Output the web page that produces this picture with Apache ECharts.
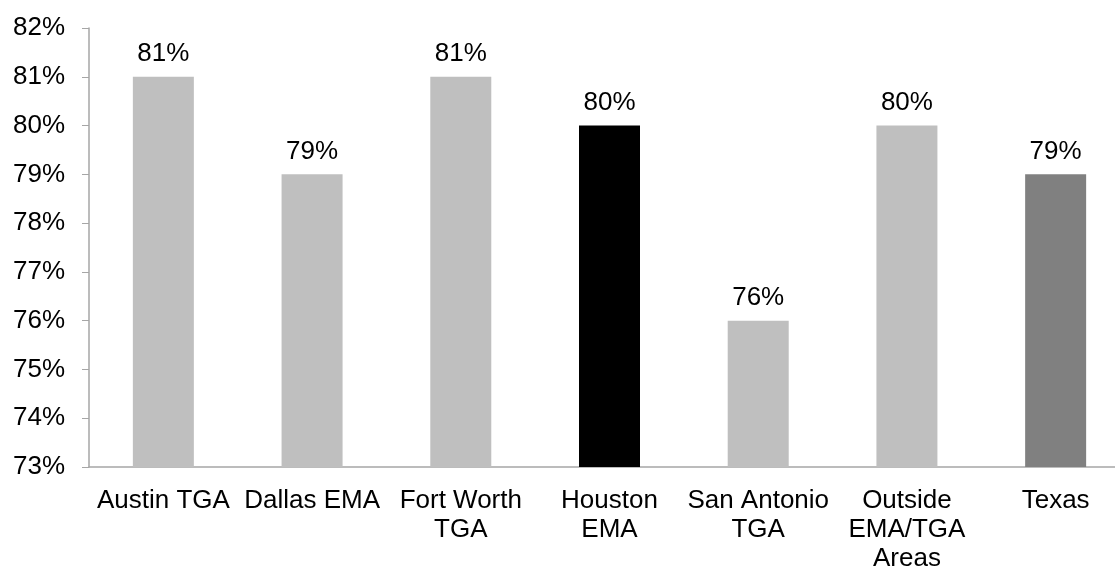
<!DOCTYPE html>
<html>
<head>
<meta charset="utf-8">
<script src="https://cdn.jsdelivr.net/npm/echarts@6/dist/echarts.min.js"></script>
<style>
  html, body { margin: 0; padding: 0; background: #fff; }
  #chart { width: 1115px; height: 570px; }
</style>
</head>
<body>
<div id="chart"></div>
<script>
const categories = ['Austin TGA', 'Dallas EMA', 'Fort Worth\nTGA', 'Houston\nEMA', 'San Antonio\nTGA', 'Outside\nEMA/TGA\nAreas', 'Texas'];
const values = [81, 79, 81, 80, 76, 80, 79];
const barColors = ['#bfbfbf', '#bfbfbf', '#bfbfbf', '#000000', '#bfbfbf', '#bfbfbf', '#808080'];

const myChart = echarts.init(document.getElementById('chart'));

const option = {
  animation: false,
  textStyle: { fontFamily: 'Liberation Sans, Arial, sans-serif' },
  grid: { left: 89, top: 28, width: 1041, height: 439, outerBoundsMode: 'none', containLabel: false },
  xAxis: {
    type: 'category',
    data: categories,
    axisLine: { lineStyle: { color: '#a6a6a6', width: 1.5 } },
    axisTick: { show: false },
    axisLabel: {
      interval: 0,
      color: '#000',
      fontSize: 26,
      lineHeight: 29,
      margin: 19
    }
  },
  yAxis: {
    type: 'value',
    min: 73,
    max: 82,
    interval: 1,
    splitLine: { show: false },
    axisLine: { show: true, lineStyle: { color: '#a6a6a6', width: 1.5 } },
    axisTick: { show: true, length: 7, lineStyle: { color: '#a6a6a6' } },
    axisLabel: {
      color: '#000',
      fontSize: 26,
      margin: 24,
      formatter: '{value}%'
    }
  },
  series: [{
    type: 'bar',
    barWidth: 61,
    data: values.map((v, i) => ({ value: v, itemStyle: { color: barColors[i] } })),
    label: {
      show: true,
      position: 'top',
      distance: 10,
      color: '#000',
      fontSize: 26,
      formatter: '{c}%'
    }
  }]
};

option && myChart.setOption(option);
</script>
</body>
</html>
